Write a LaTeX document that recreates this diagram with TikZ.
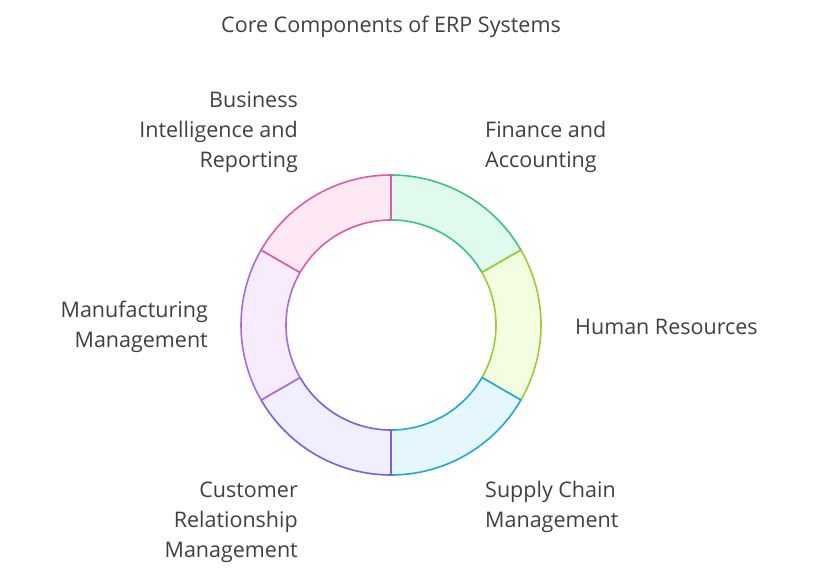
\documentclass[tikz,border=0pt]{standalone}
\usepackage{fontspec}
\setmainfont{Open Sans}
\usetikzlibrary{calc}
\definecolor{gS}{HTML}{3CC47C}\definecolor{gF}{HTML}{E0FBEE}
\definecolor{ySt}{HTML}{9ACD32}\definecolor{yF}{HTML}{F3FDE0}
\definecolor{bS}{HTML}{1EA7D9}\definecolor{bF}{HTML}{E6F6FD}
\definecolor{pS}{HTML}{7B5FE0}\definecolor{pF}{HTML}{EFEFFD}
\definecolor{vS}{HTML}{A86AE0}\definecolor{vF}{HTML}{F7ECFD}
\definecolor{kS}{HTML}{E05AA8}\definecolor{kF}{HTML}{FDE8F3}
\begin{document}
\begin{tikzpicture}[x=1pt,y=1pt,
  lbl/.style={font=\fontsize{21.5}{30}\selectfont,text=black!75,inner sep=0pt},
  seg/.style={line width=1.6pt,line join=round}]
\useasboundingbox (0,0) rectangle (813,576);
\coordinate (c) at (391,251);
\newcommand\ringseg[4]{\draw[seg,draw=#3,fill=#4] ($(c)+(#1:150)$) arc[start angle=#1,end angle=#2,radius=150] -- ($(c)+(#2:105)$) arc[start angle=#2,end angle=#1,radius=105] -- cycle;}
\ringseg{30}{90}{gS}{gF}
\ringseg{-30}{30}{ySt}{yF}
\ringseg{-90}{-30}{bS}{bF}
\ringseg{-150}{-90}{pS}{pF}
\ringseg{150}{210}{vS}{vF}
\ringseg{90}{150}{kS}{kF}
\node[lbl] (t) at (391,549) {Core Components of ERP Systems};
\node[lbl,anchor=west,align=left] (fa) at (485,429) {Finance and\\Accounting};
\node[lbl,anchor=west] (hr) at (575,249) {Human Resources};
\node[lbl,anchor=west,align=left] (sc) at (485,69) {Supply Chain\\Management};
\node[lbl,anchor=east,align=right] (crm) at (298,54) {Customer\\Relationship\\Management};
\node[lbl,anchor=east,align=right] (mm) at (208,249) {Manufacturing\\Management};
\node[lbl,anchor=east,align=right] (bi) at (298,444) {Business\\Intelligence and\\Reporting};
\end{tikzpicture}
\end{document}
